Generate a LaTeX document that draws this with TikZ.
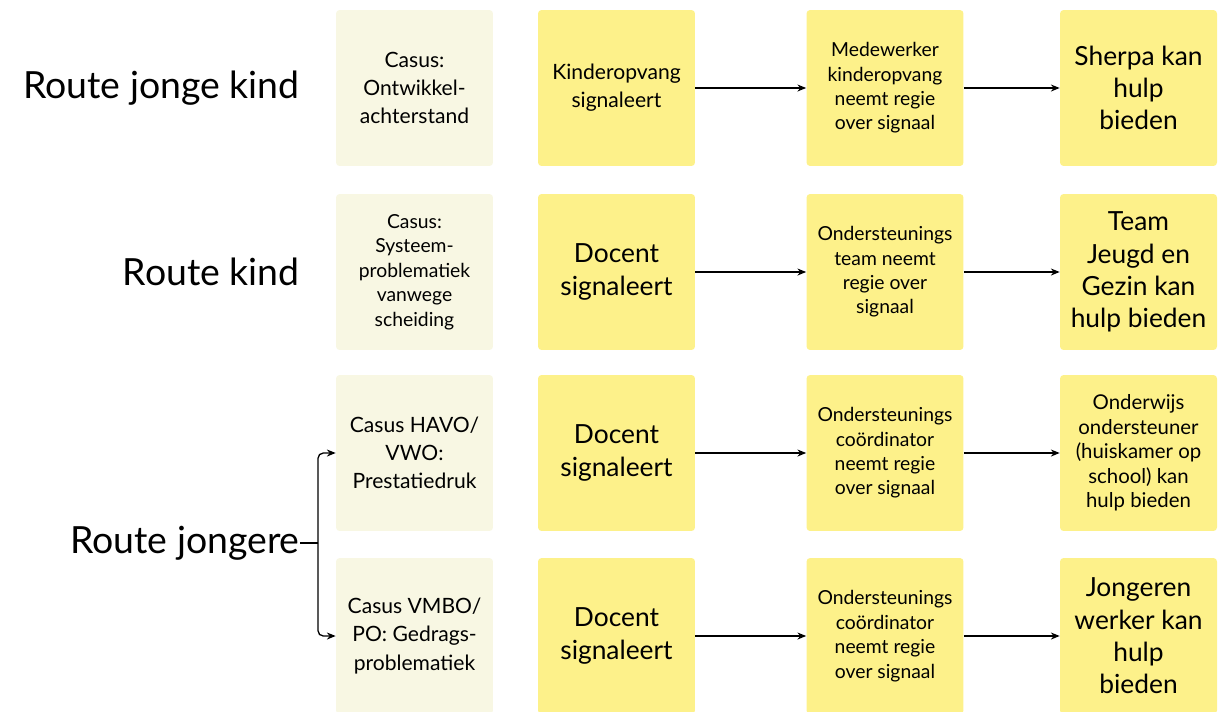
\documentclass[tikz,border=0pt]{standalone}
\usepackage{fontspec}
\setmainfont{Lato}
\usetikzlibrary{arrows.meta}
\definecolor{casuscol}{HTML}{F8F7E3}
\definecolor{notecol}{HTML}{FDF18A}
\begin{document}
\begin{tikzpicture}[x=0.02cm, y=-0.02cm,
  box/.style={rounded corners=2pt, minimum width=3.14cm, minimum height=3.12cm, align=center, inner sep=2pt},
  casus/.style={box, fill=casuscol, font=\fontsize{12}{16}\selectfont},
  note/.style={box, fill=notecol, font=\fontsize{11}{13.9}\selectfont},
  bignote/.style={box, fill=notecol, font=\fontsize{15}{18.4}\selectfont},
  route/.style={anchor=east, inner sep=0pt, font=\fontsize{21.3}{25}\selectfont},
  arr/.style={-{Stealth[length=5pt, width=4pt]}, line width=0.75pt}]
\useasboundingbox (0,0) rectangle (1223,711);
% row 1
\node[route] (r1) at (300,88) {Route jonge kind};
\node[casus] (a1) at (414.5,88) {Casus:\\Ontwikkel-\\achterstand};
\node[bignote, font=\fontsize{12}{16}\selectfont] (b1) at (616.5,88) {Kinderopvang\\signaleert};
\node[note] (c1) at (885,88) {Medewerker\\kinderopvang\\neemt regie\\over signaal};
\node[bignote] (d1) at (1138.5,88) {Sherpa kan\\hulp\\bieden};
\draw[arr] (b1) -- (c1);
\draw[arr] (c1) -- (d1);
% row 2
\node[route] (r2) at (300,272) {Route kind};
\node[casus, font=\fontsize{11}{14}\selectfont] (a2) at (414.5,272) {Casus:\\Systeem-\\problematiek\\vanwege\\scheiding};
\node[bignote] (b2) at (616.5,272) {Docent\\signaleert};
\node[note] (c2) at (885,272) {Ondersteunings\\team neemt\\regie over\\signaal};
\node[bignote] (d2) at (1138.5,272) {Team\\Jeugd en\\Gezin kan\\hulp bieden};
\draw[arr] (b2) -- (c2);
\draw[arr] (c2) -- (d2);
% row 3
\node[casus] (a3) at (414.5,453) {Casus HAVO/\\VWO:\\Prestatiedruk};
\node[bignote] (b3) at (616.5,453) {Docent\\signaleert};
\node[note] (c3) at (885,453) {Ondersteunings\\coördinator\\neemt regie\\over signaal};
\node[note, font=\fontsize{11.6}{13.9}\selectfont] (d3) at (1138.5,453) {Onderwijs\\ondersteuner\\(huiskamer op\\school) kan\\hulp bieden};
\draw[arr] (b3) -- (c3);
\draw[arr] (c3) -- (d3);
% row 4
\node[casus] (a4) at (414.5,636) {Casus VMBO/\\PO: Gedrags-\\problematiek};
\node[bignote] (b4) at (616.5,636) {Docent\\signaleert};
\node[note] (c4) at (885,636) {Ondersteunings\\coördinator\\neemt regie\\over signaal};
\node[bignote] (d4) at (1138.5,636) {Jongeren\\werker kan\\hulp\\bieden};
\draw[arr] (b4) -- (c4);
\draw[arr] (c4) -- (d4);
% route jongere splits
\node[route] (r3) at (300,543) {Route jongere};
\coordinate (split) at (318,543);
\draw[line width=0.75pt] (r3.east) -- (split);
\draw[arr, rounded corners=3pt] (split) |- (a3.west);
\draw[arr, rounded corners=3pt] (split) |- (a4.west);
\end{tikzpicture}
\end{document}
